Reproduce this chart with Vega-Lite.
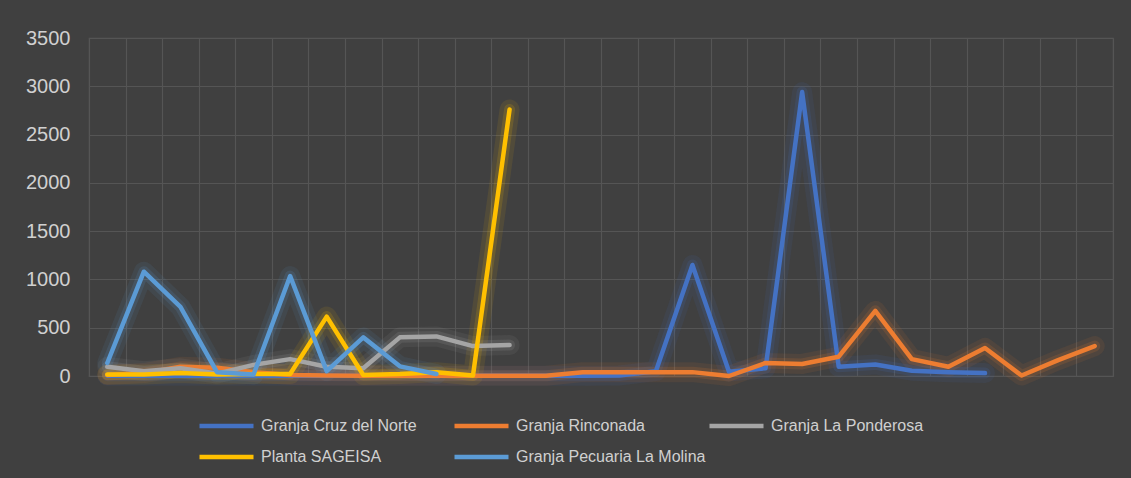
{
  "$schema": "https://vega.github.io/schema/vega-lite/v6.json",
  "width": 1024,
  "height": 338,
  "autosize": {"type": "none"},
  "padding": {"left": 89, "top": 38, "right": 18, "bottom": 102},
  "background": "#404040",
  "config": {
    "view": {"stroke": "#555555", "strokeWidth": 1.2},
    "font": "Liberation Sans"
  },
  "data": {
    "values": [
      {"Serie": "Granja Cruz del Norte", "Punto": 1, "Valor": 3},
      {"Serie": "Granja Cruz del Norte", "Punto": 2, "Valor": 3},
      {"Serie": "Granja Cruz del Norte", "Punto": 3, "Valor": 3},
      {"Serie": "Granja Cruz del Norte", "Punto": 4, "Valor": 3},
      {"Serie": "Granja Cruz del Norte", "Punto": 5, "Valor": 3},
      {"Serie": "Granja Cruz del Norte", "Punto": 6, "Valor": 3},
      {"Serie": "Granja Cruz del Norte", "Punto": 7, "Valor": 3},
      {"Serie": "Granja Cruz del Norte", "Punto": 8, "Valor": 3},
      {"Serie": "Granja Cruz del Norte", "Punto": 9, "Valor": 3},
      {"Serie": "Granja Cruz del Norte", "Punto": 10, "Valor": 3},
      {"Serie": "Granja Cruz del Norte", "Punto": 11, "Valor": 3},
      {"Serie": "Granja Cruz del Norte", "Punto": 12, "Valor": 3},
      {"Serie": "Granja Cruz del Norte", "Punto": 13, "Valor": 3},
      {"Serie": "Granja Cruz del Norte", "Punto": 14, "Valor": 3},
      {"Serie": "Granja Cruz del Norte", "Punto": 15, "Valor": 5},
      {"Serie": "Granja Cruz del Norte", "Punto": 16, "Valor": 50},
      {"Serie": "Granja Cruz del Norte", "Punto": 17, "Valor": 1150},
      {"Serie": "Granja Cruz del Norte", "Punto": 18, "Valor": 45},
      {"Serie": "Granja Cruz del Norte", "Punto": 19, "Valor": 80},
      {"Serie": "Granja Cruz del Norte", "Punto": 20, "Valor": 2940},
      {"Serie": "Granja Cruz del Norte", "Punto": 21, "Valor": 95},
      {"Serie": "Granja Cruz del Norte", "Punto": 22, "Valor": 120},
      {"Serie": "Granja Cruz del Norte", "Punto": 23, "Valor": 55},
      {"Serie": "Granja Cruz del Norte", "Punto": 24, "Valor": 40},
      {"Serie": "Granja Cruz del Norte", "Punto": 25, "Valor": 30},
      {"Serie": "Granja Rinconada", "Punto": 1, "Valor": 10},
      {"Serie": "Granja Rinconada", "Punto": 2, "Valor": 30},
      {"Serie": "Granja Rinconada", "Punto": 3, "Valor": 95},
      {"Serie": "Granja Rinconada", "Punto": 4, "Valor": 85},
      {"Serie": "Granja Rinconada", "Punto": 5, "Valor": 40},
      {"Serie": "Granja Rinconada", "Punto": 6, "Valor": 10},
      {"Serie": "Granja Rinconada", "Punto": 7, "Valor": 5},
      {"Serie": "Granja Rinconada", "Punto": 8, "Valor": 3},
      {"Serie": "Granja Rinconada", "Punto": 9, "Valor": 3},
      {"Serie": "Granja Rinconada", "Punto": 10, "Valor": 3},
      {"Serie": "Granja Rinconada", "Punto": 11, "Valor": 3},
      {"Serie": "Granja Rinconada", "Punto": 12, "Valor": 3},
      {"Serie": "Granja Rinconada", "Punto": 13, "Valor": 3},
      {"Serie": "Granja Rinconada", "Punto": 14, "Valor": 40},
      {"Serie": "Granja Rinconada", "Punto": 15, "Valor": 40},
      {"Serie": "Granja Rinconada", "Punto": 16, "Valor": 40},
      {"Serie": "Granja Rinconada", "Punto": 17, "Valor": 40},
      {"Serie": "Granja Rinconada", "Punto": 18, "Valor": 0},
      {"Serie": "Granja Rinconada", "Punto": 19, "Valor": 135},
      {"Serie": "Granja Rinconada", "Punto": 20, "Valor": 125},
      {"Serie": "Granja Rinconada", "Punto": 21, "Valor": 200},
      {"Serie": "Granja Rinconada", "Punto": 22, "Valor": 675},
      {"Serie": "Granja Rinconada", "Punto": 23, "Valor": 175},
      {"Serie": "Granja Rinconada", "Punto": 24, "Valor": 95},
      {"Serie": "Granja Rinconada", "Punto": 25, "Valor": 290},
      {"Serie": "Granja Rinconada", "Punto": 26, "Valor": 5},
      {"Serie": "Granja Rinconada", "Punto": 27, "Valor": 165},
      {"Serie": "Granja Rinconada", "Punto": 28, "Valor": 310},
      {"Serie": "Granja La Ponderosa", "Punto": 1, "Valor": 95},
      {"Serie": "Granja La Ponderosa", "Punto": 2, "Valor": 50},
      {"Serie": "Granja La Ponderosa", "Punto": 3, "Valor": 80},
      {"Serie": "Granja La Ponderosa", "Punto": 4, "Valor": 25},
      {"Serie": "Granja La Ponderosa", "Punto": 5, "Valor": 115},
      {"Serie": "Granja La Ponderosa", "Punto": 6, "Valor": 175},
      {"Serie": "Granja La Ponderosa", "Punto": 7, "Valor": 95},
      {"Serie": "Granja La Ponderosa", "Punto": 8, "Valor": 80},
      {"Serie": "Granja La Ponderosa", "Punto": 9, "Valor": 400},
      {"Serie": "Granja La Ponderosa", "Punto": 10, "Valor": 410},
      {"Serie": "Granja La Ponderosa", "Punto": 11, "Valor": 310},
      {"Serie": "Granja La Ponderosa", "Punto": 12, "Valor": 320},
      {"Serie": "Planta SAGEISA", "Punto": 1, "Valor": 15},
      {"Serie": "Planta SAGEISA", "Punto": 2, "Valor": 15},
      {"Serie": "Planta SAGEISA", "Punto": 3, "Valor": 30},
      {"Serie": "Planta SAGEISA", "Punto": 4, "Valor": 15},
      {"Serie": "Planta SAGEISA", "Punto": 5, "Valor": 20},
      {"Serie": "Planta SAGEISA", "Punto": 6, "Valor": 20},
      {"Serie": "Planta SAGEISA", "Punto": 7, "Valor": 615},
      {"Serie": "Planta SAGEISA", "Punto": 8, "Valor": 10},
      {"Serie": "Planta SAGEISA", "Punto": 9, "Valor": 20},
      {"Serie": "Planta SAGEISA", "Punto": 10, "Valor": 40},
      {"Serie": "Planta SAGEISA", "Punto": 11, "Valor": 5},
      {"Serie": "Planta SAGEISA", "Punto": 12, "Valor": 2760},
      {"Serie": "Granja Pecuaria La Molina", "Punto": 1, "Valor": 135},
      {"Serie": "Granja Pecuaria La Molina", "Punto": 2, "Valor": 1080},
      {"Serie": "Granja Pecuaria La Molina", "Punto": 3, "Valor": 715},
      {"Serie": "Granja Pecuaria La Molina", "Punto": 4, "Valor": 40},
      {"Serie": "Granja Pecuaria La Molina", "Punto": 5, "Valor": 15},
      {"Serie": "Granja Pecuaria La Molina", "Punto": 6, "Valor": 1035},
      {"Serie": "Granja Pecuaria La Molina", "Punto": 7, "Valor": 50},
      {"Serie": "Granja Pecuaria La Molina", "Punto": 8, "Valor": 400},
      {"Serie": "Granja Pecuaria La Molina", "Punto": 9, "Valor": 100},
      {"Serie": "Granja Pecuaria La Molina", "Punto": 10, "Valor": 20}
    ]
  },
  "encoding": {
    "x": {
      "field": "Punto",
      "type": "ordinal",
      "scale": {"type": "band", "paddingInner": 0, "paddingOuter": 0},
      "axis": {
        "title": null,
        "labels": false,
        "ticks": false,
        "domain": false,
        "grid": true,
        "tickBand": "extent",
        "gridColor": "#555555",
        "gridWidth": 1.2
      }
    },
    "y": {
      "field": "Valor",
      "type": "quantitative",
      "scale": {"domain": [0, 3500], "nice": false},
      "axis": {
        "title": null,
        "values": [0, 500, 1000, 1500, 2000, 2500, 3000, 3500],
        "format": "d",
        "domain": false,
        "ticks": false,
        "tickSize": 0,
        "labelPadding": 19,
        "labelFontSize": 20,
        "labelColor": "#D0D0D0",
        "labelFont": "Liberation Sans",
        "gridColor": "#555555",
        "gridWidth": 1.2
      }
    },
    "color": {
      "field": "Serie",
      "type": "nominal",
      "scale": {
        "domain": ["Granja Cruz del Norte", "Granja Rinconada", "Granja La Ponderosa", "Planta SAGEISA", "Granja Pecuaria La Molina"],
        "range": ["#4472C4", "#ED7D31", "#A5A5A5", "#FFC000", "#5B9BD5"]
      },
      "legend": {
        "title": null,
        "orient": "none",
        "legendX": 108,
        "legendY": 372,
        "direction": "horizontal",
        "columns": 3,
        "gridAlign": "all",
        "columnPadding": -6,
        "rowPadding": 6,
        "symbolType": "M-1,0H3",
        "symbolSize": 729,
        "symbolStrokeWidth": 4.5,
        "symbolOpacity": 1,
        "labelOffset": 32,
        "labelFontSize": 16,
        "labelColor": "#D0D0D0",
        "labelFont": "Liberation Sans",
        "labelLimit": 400
      }
    }
  },
  "layer": [
    {
      "mark": {"type": "line", "strokeWidth": 20, "opacity": 0.09, "strokeJoin": "round", "strokeCap": "round"}
    },
    {
      "mark": {"type": "line", "strokeWidth": 11, "opacity": 0.15, "strokeJoin": "round", "strokeCap": "round"}
    },
    {
      "mark": {"type": "line", "strokeWidth": 4.5, "strokeJoin": "round", "strokeCap": "round"}
    }
  ]
}
